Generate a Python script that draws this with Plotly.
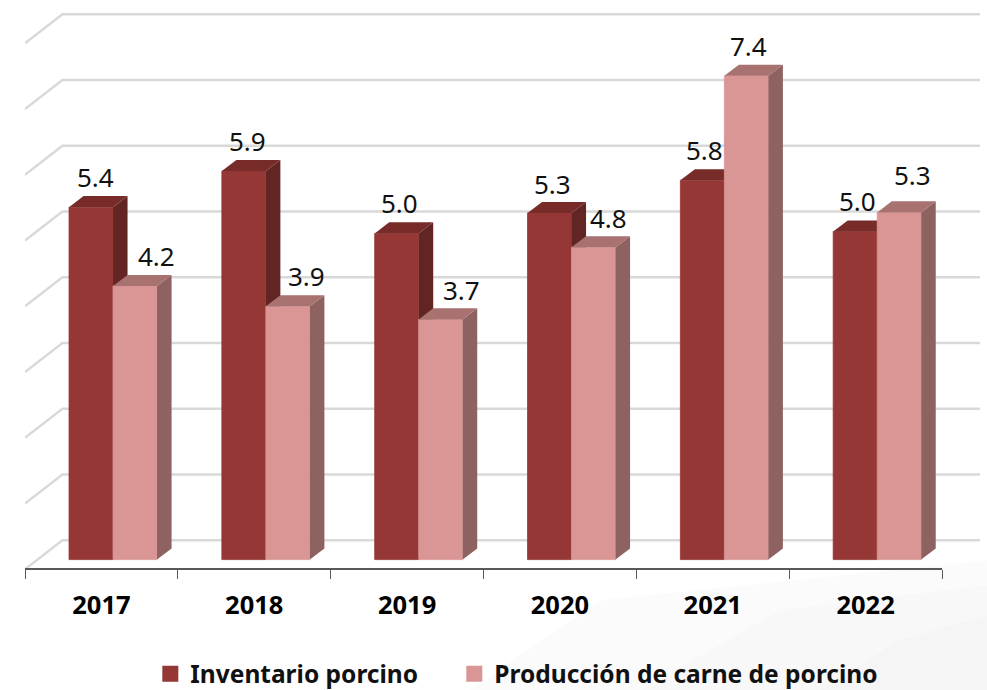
import plotly.graph_objects as go

years = ["2017", "2018", "2019", "2020", "2021", "2022"]
inventario = [5.37, 5.92, 4.97, 5.28, 5.78, 5.00]
produccion = [4.17, 3.86, 3.66, 4.76, 7.37, 5.29]
grid_values = [0, 1, 2, 3, 4, 5, 6, 7, 8]

names = ["Inventario porcino", "Producción de carne de porcino"]

FONT = "Noto Sans"
FRONT = ["#953735", "#D99694"]
SIDE = ["#632523", "#8E6261"]
TOP = ["#772C2A", "#A87271"]
BAR_W = 0.288
OFFS = [-0.212, 0.076]
DX, DY = 0.095, 0.168
# label nudges in pixels, from the bar's centre
LABEL_DX = [[4, 3.5, 3, 3, 2.5, 2.5], [21, 19, 21, 15, 2.5, 13.5]]
LABEL_DY = [[-30, -30, -30, -29, -30, -30], [-30, -30, -29, -29, -30, -37]]

xs = list(range(len(years)))
fig = go.Figure()

# back wall + left wall grid lines, on the widest subplot so they sit behind the bars
gx, gy = [], []
for g in grid_values:
    back = g * 1.002 + 0.294
    gx += [-0.5, -0.255, 5.75, None]
    gy += [back - 0.442, back, back, None]
fig.add_trace(go.Scatter(x=gx, y=gy, mode="lines", line=dict(color="#D9D9D9", width=2.4),
                         hoverinfo="skip", showlegend=False, xaxis="x", yaxis="y"))

# legend entries
for i in range(2):
    fig.add_trace(go.Scatter(x=[None], y=[None], mode="markers", name=names[i],
                             legend="legend" if i == 0 else "legend2",
                             marker=dict(symbol="square", size=16, color=FRONT[i]),
                             xaxis="x", yaxis="y"))

# 3D series, each on its own axes so draw order is dark then pink
for i, vals in enumerate([inventario, produccion]):
    ax = str(i + 2)
    fig.add_trace(go.Bar(x=xs, y=vals, width=BAR_W, offset=OFFS[i], base=0,
                         marker=dict(color=FRONT[i], line=dict(width=0.8, color=FRONT[i])),
                         showlegend=False, name=names[i], xaxis="x" + ax, yaxis="y" + ax))
    sx, sy, tx, ty = [], [], [], []
    for c, v in zip(xs, vals):
        x0, x1 = c + OFFS[i], c + OFFS[i] + BAR_W
        sx += [x1, x1 + DX, x1 + DX, x1, x1, None]
        sy += [0, DY, v + DY, v, 0, None]
        tx += [x0, x1, x1 + DX, x0 + DX, x0, None]
        ty += [v, v, v + DY, v + DY, v, None]
    for px, py, col in [(sx, sy, SIDE[i]), (tx, ty, TOP[i])]:
        fig.add_trace(go.Scatter(x=px, y=py, mode="lines", fill="toself", fillcolor=col,
                                 line=dict(width=0), hoverinfo="skip", showlegend=False,
                                 xaxis="x" + ax, yaxis="y" + ax))

# data labels
annos = []
for i, vals in enumerate([inventario, produccion]):
    for c, v in zip(xs, vals):
        annos.append(dict(x=c + OFFS[i] + BAR_W / 2, y=v, xref="x2", yref="y2",
                          text=f"{v:.1f}", showarrow=False,
                          xshift=LABEL_DX[i][c], yshift=-LABEL_DY[i][c],
                          font=dict(family=FONT, size=26, color="#111111")))

# faint background texture at the bottom right (paper coords are relative to the plot area)
bg = [
    ([(470, 690), (600, 600), (987, 560), (987, 690)], "#FBFBFB"),
    ([(640, 690), (780, 610), (987, 585), (987, 690)], "#F8F8F8"),
    ([(820, 690), (900, 640), (987, 615), (987, 690)], "#F5F5F5"),
]
shapes = []
for pts, col in bg:
    path = "M " + " L ".join(f"{(x - 25) / 955:.4f} {(567.7 - y) / 567.7:.4f}" for x, y in pts) + " Z"
    shapes.append(dict(type="path", xref="paper", yref="paper", path=path,
                       fillcolor=col, line=dict(width=0), layer="below"))

rng_x = [-0.5, 5.5]
rng_wide = [-0.5, 5.749]
rng_y = [-0.128, 8.526]
dom_x = [0, 917 / 955]
leg_common = dict(orientation="h", xref="container", yref="container",
                  xanchor="left", yanchor="middle",
                  font=dict(family=FONT, size=24.5, color="#111111", weight="bold"),
                  bgcolor="rgba(0,0,0,0)")
fig.update_layout(
    width=987, height=690,
    margin=dict(l=25, r=7, t=0, b=122.3, autoexpand=False),
    paper_bgcolor="white", plot_bgcolor="rgba(0,0,0,0)",
    barmode="overlay",
    font=dict(family=FONT),
    annotations=annos,
    shapes=shapes,
    xaxis=dict(range=rng_wide, domain=[0, 1], visible=False),
    yaxis=dict(range=rng_y, visible=False),
    xaxis2=dict(range=rng_x, domain=dom_x, anchor="y2", tickmode="array", tickvals=xs, ticktext=years,
                ticks="outside", ticklen=13, tickcolor="rgba(0,0,0,0)",
                tickfont=dict(family=FONT, size=25.5, color="#000000", weight="bold"),
                showline=True, linecolor="#595959", linewidth=2.4, showgrid=False, zeroline=False,
                minor=dict(tickmode="array", tickvals=[-0.5, 0.5, 1.5, 2.5, 3.5, 4.5, 5.5],
                           ticks="outside", ticklen=9, tickcolor="#595959", tickwidth=1.3,
                           showgrid=False)),
    yaxis2=dict(range=rng_y, anchor="x2", visible=False),
    xaxis3=dict(range=rng_x, overlaying="x2", anchor="y3", visible=False),
    yaxis3=dict(range=rng_y, overlaying="y2", anchor="x3", visible=False),
    legend=dict(x=0.1523, y=0.0235, **leg_common),
    legend2=dict(x=0.4603, y=0.0235, **leg_common),
)
fig.write_html("out.html", config=dict(displayModeBar=False),
               post_script="document.body.style.margin='0';")
